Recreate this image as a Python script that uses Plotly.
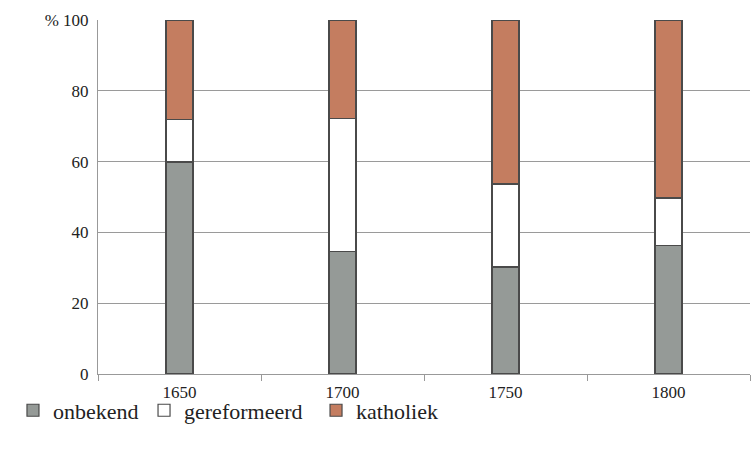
import plotly.graph_objects as go

# data (percent)
years = ["1650", "1700", "1750", "1800"]
onbekend = [59.9, 34.7, 30.2, 36.2]
gereformeerd = [11.9, 37.4, 23.5, 13.5]
katholiek = [28.2, 27.9, 46.3, 50.3]

y_ticks = [0, 20, 40, 60, 80, 100]
y_labels = ["0", "20", "40", "60", "80", "% 100"]

serif = "Liberation Serif, DejaVu Serif, serif"
edge = dict(color="#4a4a4a", width=1.2)

fig = go.Figure()
fig.add_trace(go.Bar(x=years, y=onbekend, name="onbekend", legend="legend",
                     marker=dict(color="#959a97", line=edge), width=0.165))
fig.add_trace(go.Bar(x=years, y=gereformeerd, name="gereformeerd", legend="legend2",
                     marker=dict(color="#ffffff", line=edge), width=0.165))
fig.add_trace(go.Bar(x=years, y=katholiek, name="katholiek", legend="legend3",
                     marker=dict(color="#c47d60", line=edge), width=0.165))

leg = dict(orientation="h", xanchor="left", y=-0.103, yanchor="middle",
           font=dict(family=serif, size=22, color="#222"), itemwidth=30,
           bgcolor="rgba(0,0,0,0)")

fig.update_layout(
    barmode="stack",
    width=752, height=451,
    margin=dict(l=98, r=2, t=20, b=77),
    plot_bgcolor="white", paper_bgcolor="white",
    font=dict(family=serif, size=17, color="#222"),
    showlegend=True,
    legend=dict(leg, x=-0.1304),
    legend2=dict(leg, x=0.0706),
    legend3=dict(leg, x=0.3344),
)
fig.update_xaxes(type="category", showgrid=False, showline=True, linecolor="#999",
                 linewidth=1, ticks="outside", tickson="boundaries", ticklen=6,
                 tickcolor="#999", tickfont=dict(family=serif, size=17),
                 ticklabelstandoff=3)
fig.update_yaxes(range=[0, 100], tickvals=y_ticks, ticktext=y_labels,
                 showgrid=True, gridcolor="#9a9a9a", gridwidth=1,
                 showline=True, linecolor="#999", linewidth=1, zeroline=False,
                 ticks="", ticklabelstandoff=5, tickfont=dict(family=serif, size=17))

fig.write_html("out.html", config={"displayModeBar": False},
               post_script="document.body.style.margin='0';document.body.style.overflow='hidden';")
